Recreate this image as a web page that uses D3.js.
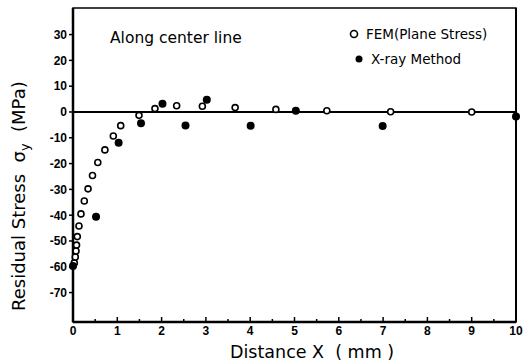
<!DOCTYPE html>
<html>
<meta charset="utf-8">
<head>
<script src="https://d3js.org/d3.v7.min.js"></script>
<style>
  body { margin: 0; background: #fff; }
  svg text { font-family: "DejaVu Sans", sans-serif; fill: #000; }
  .tick { font-family: "Liberation Sans", Arial, sans-serif; font-weight: bold; font-size: 12px; }
</style>
</head>
<body>
<svg id="chart" width="524" height="362"></svg>
<script>
// FEM (plane stress), open circles
var femX = [0.03, 0.052, 0.068, 0.08, 0.097, 0.135, 0.18, 0.255, 0.34, 0.44, 0.56, 0.72, 0.91, 1.077, 1.49, 1.85, 2.34, 2.92, 3.66, 4.58, 5.73, 7.17, 9.0];
var femY = [-58.5, -56.2, -53.9, -51.6, -48.3, -44.2, -39.5, -34.5, -29.8, -24.6, -19.6, -14.7, -9.3, -5.3, -1.3, 1.3, 2.4, 2.2, 1.7, 1.0, 0.5, 0.1, 0.0];
// X-ray method, filled circles
var xrayX = [0.0, 0.52, 1.03, 1.535, 2.02, 2.54, 3.02, 4.01, 5.03, 6.99, 10.0];
var xrayY = [-59.7, -40.6, -11.9, -4.4, 3.2, -5.2, 4.7, -5.3, 0.5, -5.4, -1.8];
var xTicks = [0, 1, 2, 3, 4, 5, 6, 7, 8, 9, 10];
var yTicks = [30, 20, 10, 0, -10, -20, -30, -40, -50, -60, -70];

var svg = d3.select("#chart");
var x = d3.scaleLinear().domain([0, 10]).range([73, 516]);
var y = d3.scaleLinear().domain([-81.4, 40.3]).range([322, 8]);

// frame
var g = svg.append("g");
g.append("rect").attr("x", x(0)).attr("y", y(40.3)).attr("width", x(10) - x(0)).attr("height", y(-81.4) - y(40.3))
  .attr("fill", "none").attr("stroke", "#000").attr("stroke-width", 1.5);
g.append("line").attr("x1", x(0)).attr("x2", x(0)).attr("y1", y(40.3)).attr("y2", y(-81.4)).attr("stroke", "#000").attr("stroke-width", 2.5);
g.append("line").attr("x1", x(0)).attr("x2", x(10)).attr("y1", y(-81.4)).attr("y2", y(-81.4)).attr("stroke", "#000").attr("stroke-width", 2.5);
g.append("line").attr("x1", x(10)).attr("x2", x(10)).attr("y1", y(40.3)).attr("y2", y(-81.4)).attr("stroke", "#000").attr("stroke-width", 2);
// zero line
g.append("line").attr("x1", x(0)).attr("x2", x(10)).attr("y1", y(0)).attr("y2", y(0)).attr("stroke", "#000").attr("stroke-width", 1.8);

// y axis ticks + labels
yTicks.forEach(function(t) {
  g.append("line").attr("x1", x(0) - 4).attr("x2", x(0)).attr("y1", y(t)).attr("y2", y(t)).attr("stroke", "#000").attr("stroke-width", 1.5);
  g.append("text").attr("class", "tick").attr("x", x(0) - 6).attr("y", y(t)).attr("dy", "0.36em")
    .attr("text-anchor", "end").text(t);
});

// x axis ticks (inward) + labels
xTicks.forEach(function(t) {
  g.append("line").attr("x1", x(t)).attr("x2", x(t)).attr("y1", y(-81.4)).attr("y2", y(-81.4) - 5).attr("stroke", "#000").attr("stroke-width", 1.5);
  if (t < 10) {
    g.append("line").attr("x1", x(t + 0.5)).attr("x2", x(t + 0.5)).attr("y1", y(-81.4)).attr("y2", y(-81.4) - 3).attr("stroke", "#000").attr("stroke-width", 1.5);
  }
  g.append("text").attr("class", "tick").attr("x", x(t)).attr("y", 335).attr("text-anchor", "middle").text(t);
});

// points
var fem = femX.map(function(v, i) { return [v, femY[i]]; });
var xray = xrayX.map(function(v, i) { return [v, xrayY[i]]; });

g.selectAll(".fem").data(fem).enter().append("circle")
  .attr("cx", function(d) { return x(d[0]); }).attr("cy", function(d) { return y(d[1]); })
  .attr("r", 3).attr("fill", "#fff").attr("stroke", "#000").attr("stroke-width", 1.6);
g.selectAll(".xray").data(xray).enter().append("circle")
  .attr("cx", function(d) { return x(d[0]); }).attr("cy", function(d) { return y(d[1]); })
  .attr("r", 4).attr("fill", "#000");

// annotation + legend
g.append("text").attr("x", 110).attr("y", 43).attr("font-size", "15.5px").text("Along center line");
g.append("circle").attr("cx", 354).attr("cy", 34).attr("r", 3.5).attr("fill", "#fff").attr("stroke", "#000").attr("stroke-width", 1.6);
g.append("text").attr("x", 366).attr("y", 39).attr("font-size", "13.5px").text("FEM(Plane Stress)");
g.append("circle").attr("cx", 359).attr("cy", 59).attr("r", 3.5).attr("fill", "#000");
g.append("text").attr("x", 371).attr("y", 64).attr("font-size", "13.5px").text("X-ray Method");

// axis titles
g.append("text").attr("x", 230).attr("y", 358).attr("font-size", "17.5px").text("Distance X  ( mm )").style("white-space", "pre");
var yl = g.append("text").attr("transform", "translate(25,311) rotate(-90)")
  .attr("font-size", "18px").style("white-space", "pre");
yl.append("tspan").text("Residual Stress  σ");
yl.append("tspan").attr("font-size", "13px").attr("dy", 4).text("y");
yl.append("tspan").attr("dy", -4).text("  (MPa)");
</script>
</body>
</html>
